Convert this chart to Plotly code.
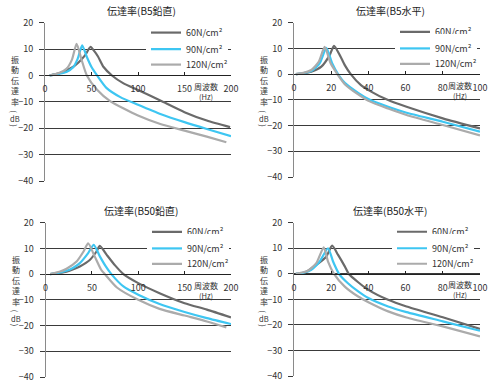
import plotly.graph_objects as go

W, H = 495, 390
FONT = "Noto Sans CJK JP, Noto Sans, sans-serif"

TITLES = ["伝達率(B5鉛直)", "伝達率(B5水平)", "伝達率(B50鉛直)", "伝達率(B50水平)"]
SERIES_NAMES = ["60N/cm²", "90N/cm²", "120N/cm²"]
COLORS = ["#6a6a6a", "#3ec6f2", "#ababab"]
X_TICKS_200 = [0, 50, 100, 150, 200]
X_TICKS_100 = [0, 20, 40, 60, 80, 100]
Y_TICKS = [20, 10, 0, -10, -20, -30, -40]
Y_TITLE_STACK = "振<br>動<br>伝<br>達<br>率"
X_TITLE = "周波数<br><span style='font-size:7.5px'>(Hz)</span>"

# ---- B5 鉛直 (top-left) ----
B5V_F60 = [5, 15, 23, 30, 36, 43, 49, 53, 57, 63, 72, 84, 100, 124, 150, 174, 199]
B5V_DB60 = [0, 0.8, 1.9, 3.2, 4.9, 7.6, 10.8, 9.2, 7.2, 3.2, 0, -2.9, -5.5, -9.5, -13.9, -17.1, -19.6]
B5V_F90 = [5, 15, 23, 30, 35, 40, 45, 50, 56, 66, 81, 100, 124, 150, 174, 200]
B5V_DB90 = [0, 0.6, 1.3, 3.0, 6.2, 11.4, 7.0, 3.2, 0, -4.7, -8.2, -11.1, -14.6, -17.7, -20.3, -23.0]
B5V_F120 = [5, 15, 23, 29, 34, 39, 45, 56, 70, 100, 124, 150, 174, 195]
B5V_DB120 = [0, 0.9, 2.5, 6.0, 12.0, 6.3, 0, -5.4, -9.7, -15.2, -18.4, -20.9, -23.2, -25.3]

# ---- B5 水平 (top-right) ----
B5H_F60 = [1, 5, 9.3, 14.7, 19.2, 21.5, 24.6, 27.3, 30.5, 36, 40, 50.6, 60.5, 80, 100]
B5H_DB60 = [0, 0.3, 0.9, 2.9, 7.4, 11.0, 7.4, 3.5, 0, -4.3, -6.2, -10.1, -12.7, -17.2, -21.1]
B5H_F90 = [1, 5, 9.3, 13.8, 17.4, 20.5, 24, 27.3, 34.5, 40, 50.6, 60.5, 80, 100]
B5H_DB90 = [0, 0.4, 1.2, 4.2, 10.2, 4.2, -0.4, -3.4, -7.3, -9.7, -12.7, -15.0, -18.5, -22.4]
B5H_F120 = [1, 5, 9.3, 13.3, 16.5, 19.7, 23.3, 27.3, 34.5, 40, 50.6, 60.5, 80, 100]
B5H_DB120 = [0, 0.5, 1.6, 4.8, 10.6, 4.2, 0, -3.9, -7.9, -10.4, -13.4, -15.9, -19.8, -23.8]

# ---- B50 鉛直 (bottom-left) ----
B50V_F60 = [5, 15, 22.7, 30, 37, 48, 55, 58.6, 66, 75, 84, 100, 123, 150, 174, 200]
B50V_DB60 = [0, 0.5, 1.0, 1.9, 3.0, 5.6, 8.8, 11.0, 7.5, 3.4, 0, -3.5, -7.4, -11.3, -13.8, -16.8]
B50V_F90 = [5, 15, 22.7, 30, 37, 46, 52, 58.6, 65, 71, 84, 100, 123, 150, 174, 200]
B50V_DB90 = [0, 0.6, 1.3, 2.5, 4.3, 8.2, 11.4, 6.9, 3.0, 0, -4.8, -8.0, -11.6, -14.7, -17.1, -19.4]
B50V_F120 = [5, 15, 22.7, 33.5, 41, 46, 53, 60, 64, 77, 100, 123, 150, 174, 195]
B50V_DB120 = [0, 0.9, 2.1, 4.9, 8.8, 12.0, 6.9, 1.7, 0, -5.2, -10.0, -13.5, -16.1, -18.4, -20.7]

# ---- B50 水平 (bottom-right) ----
B50H_F60 = [1, 5.7, 12, 17.4, 20.5, 23.7, 27.3, 29.4, 34.5, 40, 50.6, 60.5, 80, 100]
B50H_DB60 = [0, 0.5, 3.5, 6.8, 11.0, 7.4, 2.9, 0, -3.3, -6.3, -10.2, -12.8, -17.0, -21.6]
B50H_F90 = [1, 5, 9.3, 13.8, 18.3, 21, 24.2, 29, 34.5, 40, 50.6, 60.5, 80, 100]
B50H_DB90 = [0, 0.4, 1.6, 4.8, 10.0, 4.8, 0, -3.7, -6.9, -9.5, -12.8, -15.0, -18.6, -22.3]
B50H_F120 = [1, 5, 7.5, 12, 16, 18.3, 21.5, 27.3, 34.5, 40, 50.6, 60.5, 80, 100]
B50H_DB120 = [0, 0.6, 1.2, 4.2, 10.4, 4.8, 0, -5.0, -8.9, -11.1, -14.7, -17.1, -20.6, -24.5]

PANELS = [
    dict(data=[(B5V_F60, B5V_DB60), (B5V_F90, B5V_DB90), (B5V_F120, B5V_DB120)],
         xmax=200, xticks=X_TICKS_200, px=(45, 231), py=(22.7, 181), leg_text_x=186, xl=0.865),
    dict(data=[(B5H_F60, B5H_DB60), (B5H_F90, B5H_DB90), (B5H_F120, B5H_DB120)],
         xmax=100, xticks=X_TICKS_100, px=(294, 480), py=(22.7, 177), leg_text_x=435, xl=0.894),
    dict(data=[(B50V_F60, B50V_DB60), (B50V_F90, B50V_DB90), (B50V_F120, B50V_DB120)],
         xmax=200, xticks=X_TICKS_200, px=(45.5, 231), py=(222.7, 377), leg_text_x=187, xl=0.865),
    dict(data=[(B50H_F60, B50H_DB60), (B50H_F90, B50H_DB90), (B50H_F120, B50H_DB120)],
         xmax=100, xticks=X_TICKS_100, px=(294, 480), py=(222.7, 376), leg_text_x=432, xl=0.894),
]

fig = go.Figure()
layout = dict(width=W, height=H, margin=dict(l=0, r=0, t=0, b=0, autoexpand=False),
              paper_bgcolor="white", plot_bgcolor="white",
              font=dict(family=FONT, size=9, color="#333"),
              showlegend=True)
annotations = []


def fx(p):
    return p / W


def fy(p):
    return 1 - p / H


# one legend per entry so the rows can sit 16 px apart;
# the middle-row legends (drawn first) carry the white background
ROW_OFFSETS = [-16.5, 0, 15.5]
legend_names = {}
n = 4
for i in range(4):
    for k in range(3):
        if k == 1:
            legend_names[(i, k)] = "legend" if i == 0 else "legend%d" % (i + 1)
        else:
            n += 1
            legend_names[(i, k)] = "legend%d" % n

for i, P in enumerate(PANELS):
    sfx = "" if i == 0 else str(i + 1)
    xa, ya = "x" + sfx, "y" + sfx
    for k, (fq, db) in enumerate(P["data"]):
        leg = legend_names[(i, k)]
        fig.add_trace(go.Scatter(
            x=fq, y=db, mode="lines", name=SERIES_NAMES[k],
            line=dict(color=COLORS[k], width=2.2, shape="spline", smoothing=0.6),
            xaxis=xa, yaxis=ya, legend=leg, showlegend=True))
        row_center = P["py"][0] + (P["py"][1] - P["py"][0]) / 6 + ROW_OFFSETS[k]
        layout[leg] = dict(
            x=fx(P["leg_text_x"] - 40), y=fy(row_center), xanchor="left", yanchor="middle",
            bgcolor="white" if k == 1 else "rgba(0,0,0,0)", borderwidth=0,
            font=dict(size=9, color="#333"),
            itemwidth=30, tracegroupgap=0, itemclick=False, itemdoubleclick=False)
    x0, x1 = fx(P["px"][0]), fx(P["px"][1])
    y0, y1 = fy(P["py"][1]), fy(P["py"][0])
    zero_pos = y0 + (40 / 60) * (y1 - y0)
    layout["xaxis" + sfx] = dict(
        domain=[x0, x1], range=[0, P["xmax"]], anchor="free", position=zero_pos,
        tickvals=P["xticks"], showgrid=False, zeroline=False, automargin=False,
        showline=True, linecolor="#222", linewidth=1,
        ticks="inside", ticklen=3, tickcolor="#222", tickwidth=1,
        ticklabelstandoff=5, tickfont=dict(size=9, color="#333"))
    layout["yaxis" + sfx] = dict(
        domain=[y0, y1], range=[-40, 20], anchor=xa, automargin=False,
        tickvals=Y_TICKS, showgrid=True, gridcolor="#3a3a3a", gridwidth=1,
        zeroline=False, showline=True, linecolor="#8a8a8a", linewidth=1,
        ticks="outside", ticklen=5, tickcolor="#3a3a3a",
        ticklabelstandoff=4, tickfont=dict(size=9, color="#333"))
    # title
    cx = (P["px"][0] + P["px"][1]) / 2 + 3
    annotations.append(dict(text=TITLES[i], x=fx(cx), y=fy(P["py"][0] - 12),
                            xref="paper", yref="paper", showarrow=False,
                            xanchor="center", yanchor="middle",
                            font=dict(size=10, color="#222")))
    # x axis label (two lines in one text)
    xl = P["xl"] * P["xmax"]
    annotations.append(dict(text=X_TITLE, x=xl, y=-6.2, xref=xa, yref=ya,
                            showarrow=False, xanchor="center", yanchor="middle",
                            font=dict(size=8, color="#333")))
    # y axis title: stacked characters, then (dB) with turned brackets
    tx = P["px"][0] - 30
    top = P["py"][0]
    annotations.append(dict(text=Y_TITLE_STACK, x=fx(tx), y=fy(top + 58),
                            xref="paper", yref="paper", showarrow=False,
                            xanchor="center", yanchor="middle",
                            font=dict(size=8, color="#333")))
    annotations.append(dict(text="(", textangle=90, x=fx(tx), y=fy(top + 88.5),
                            xref="paper", yref="paper", showarrow=False,
                            xanchor="center", yanchor="middle",
                            font=dict(size=8, color="#333")))
    annotations.append(dict(text="dB", x=fx(tx), y=fy(top + 95.5),
                            xref="paper", yref="paper", showarrow=False,
                            xanchor="center", yanchor="middle",
                            font=dict(size=7.5, color="#333")))
    annotations.append(dict(text=")", textangle=90, x=fx(tx), y=fy(top + 102.5),
                            xref="paper", yref="paper", showarrow=False,
                            xanchor="center", yanchor="middle",
                            font=dict(size=8, color="#333")))

layout["annotations"] = annotations
fig.update_layout(**layout)
fig.write_html("out.html", config={"displayModeBar": False},
               post_script="document.body.style.margin='0';document.body.style.padding='0';")
